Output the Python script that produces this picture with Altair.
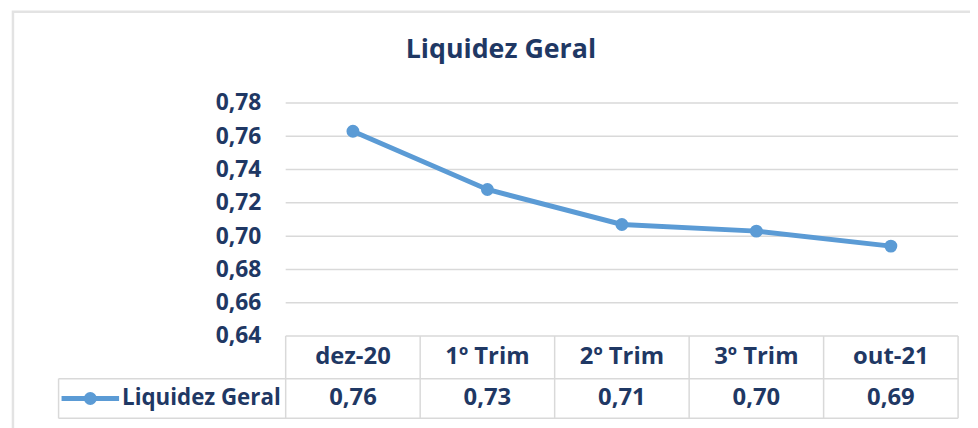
import altair as alt
import pandas as pd

categories = ["dez-20", "1º Trim", "2º Trim", "3º Trim", "out-21"]
values = [0.763, 0.728, 0.707, 0.703, 0.694]
y_ticks = [0.64, 0.66, 0.68, 0.70, 0.72, 0.74, 0.76, 0.78]
series_name = "Liquidez Geral"
chart_title = "Liquidez Geral"

df = pd.DataFrame({
    "cat": categories,
    "val": values,
    "label": [f"{v:.2f}".replace(".", ",") for v in values],
})
grid_df = pd.DataFrame({"tick": y_ticks})

W, H = 678, 235
ROW1, ROW2 = 278, 318
LEFT_CELL = -229
FONT = "Open Sans"
TXT = "#1F3864"
BLUE = "#5B9BD5"
GRID = "#D9D9D9"

xs = alt.Scale(domain=categories, paddingInner=0, paddingOuter=0)
ys = alt.Scale(domain=[0.64, 0.78], nice=False, zero=False)
x_enc = alt.X("cat:N", scale=xs, axis=None, sort=categories)

base = alt.Chart(df)

grid = alt.Chart(grid_df).mark_rule(color=GRID, strokeWidth=1.5).encode(
    y=alt.Y(
        "tick:Q", scale=ys,
        axis=alt.Axis(
            values=y_ticks, tickCount=len(y_ticks),
            labelExpr="replace(format(datum.value, '.2f'), '.', ',')",
            grid=False, domain=False, ticks=False, labelOverlap=False,
            labelFont=FONT, labelFontSize=23, labelFontWeight="bold",
            labelColor=TXT, labelPadding=25, title=None,
        ),
    ),
    x=alt.value(0), x2=alt.value(W),
)

line = base.mark_line(color=BLUE, strokeWidth=5).encode(
    x=x_enc, y=alt.Y("val:Q", scale=ys))
points = base.mark_point(filled=True, color=BLUE, size=170, opacity=1).encode(
    x=x_enc, y=alt.Y("val:Q", scale=ys))

header = base.mark_text(font=FONT, fontSize=24, fontWeight="bold", color=TXT,
                        baseline="middle").encode(
    x=x_enc, y=alt.value((H + ROW1) / 2), text="cat:N")
row = base.mark_text(font=FONT, fontSize=24, fontWeight="bold", color=TXT,
                     baseline="middle").encode(
    x=x_enc, y=alt.value((ROW1 + ROW2) / 2), text="label:N")

vlines = base.mark_rule(color=GRID, strokeWidth=1.5).encode(
    x=alt.X("cat:N", scale=xs, axis=None, sort=categories, bandPosition=0),
    y=alt.value(H), y2=alt.value(ROW2))

one = alt.Chart(pd.DataFrame({"k": [0]}))
right_edge = one.mark_rule(color=GRID, strokeWidth=1.5).encode(
    x=alt.value(W), y=alt.value(H), y2=alt.value(ROW2))
left_edge = one.mark_rule(color=GRID, strokeWidth=1.5).encode(
    x=alt.value(LEFT_CELL), y=alt.value(ROW1), y2=alt.value(ROW2))
mid_line = one.mark_rule(color=GRID, strokeWidth=1.5).encode(
    x=alt.value(LEFT_CELL), x2=alt.value(W), y=alt.value(ROW1))
bot_line = one.mark_rule(color=GRID, strokeWidth=1.5).encode(
    x=alt.value(LEFT_CELL), x2=alt.value(W), y=alt.value(ROW2))

legend_line = one.mark_rule(color=BLUE, strokeWidth=5).encode(
    x=alt.value(-226), x2=alt.value(-168), y=alt.value((ROW1 + ROW2) / 2))
legend_pt = one.mark_point(filled=True, color=BLUE, size=170, opacity=1).encode(
    x=alt.value(-197), y=alt.value((ROW1 + ROW2) / 2))
legend_txt = one.mark_text(font=FONT, fontSize=22.5, fontWeight="bold", color=TXT,
                           align="left", baseline="middle", text=series_name).encode(
    x=alt.value(-165), y=alt.value((ROW1 + ROW2) / 2))

frame = one.mark_rect(fill=None, stroke="#E3E3E3", strokeWidth=2.5).encode(
    x=alt.value(-275), x2=alt.value(720), y=alt.value(-92), y2=alt.value(400))

chart = alt.layer(
    frame, grid, vlines, right_edge, left_edge, mid_line, bot_line,
    line, points, header, row, legend_line, legend_pt, legend_txt,
).properties(
    width=W, height=H,
    title=alt.Title(chart_title, font=FONT, fontSize=27, fontWeight="bold",
                    color=TXT, anchor="middle", frame="group", dx=-122,
                    offset=-75, baseline="alphabetic"),
    autosize=alt.AutoSizeParams(type="none"),
    padding={"left": 280, "top": 94, "right": 12, "bottom": 91},
).configure(background="white").configure_view(stroke=None)

chart.save("out.html", embed_options={"renderer": "svg", "actions": False})
